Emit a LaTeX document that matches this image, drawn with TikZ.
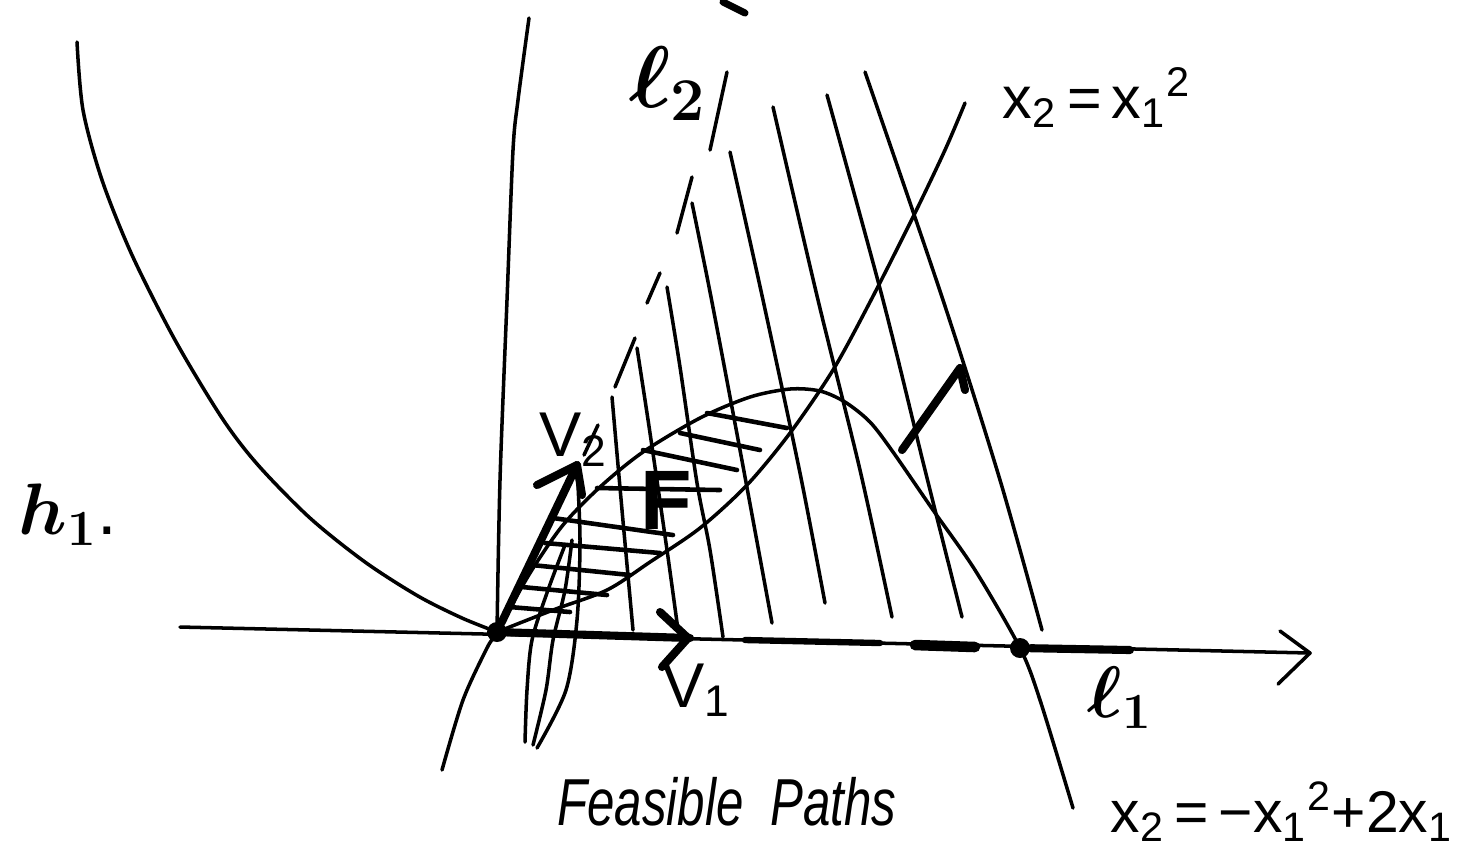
\documentclass[tikz,border=0pt]{standalone}
\usepackage{fontspec}
\setmainfont{Liberation Sans}
\usepackage{amsmath,bm}
\usetikzlibrary{arrows.meta}
\begin{document}
\begin{tikzpicture}[x=0.01cm,y=-0.01cm,
  curve/.style={line width=1.0pt,line cap=round,line join=round},
  heavy/.style={line width=2.3pt,line cap=round,line join=round},
  hatch/.style={line width=1.3pt,line cap=round},
  lbl/.style={inner sep=0pt,font=\fontsize{17}{19}\selectfont},
  dotmark/.style={circle,fill=black,inner sep=0pt,minimum size=0.2cm},
]
\useasboundingbox (0,0) rectangle (1461,853);

% key points
\node[dotmark] (O) at (497,632) {};
\node[dotmark] (R) at (1020,648) {};
\coordinate (axL) at (180,627);
\coordinate (axR) at (1310,653);

% horizontal axis with open arrowhead
\draw[curve] (axL) -- (axR);
\draw[curve] (1280,631) -- (axR) -- (1278,684);
% thick stretches along the axis
\draw[heavy] (O) -- (690,638);
\draw[line width=1.8pt,line cap=round] (745,640) -- (880,643);
\draw[line width=3pt,line cap=round] (915,645) -- (975,647);
\draw[line width=2.3pt,line cap=round] (R) -- (1130,650);

% vertical axis
\draw[curve] plot[smooth] coordinates {(529,18) (518,100) (513,150) (507,300) (500,480) (O)};

% x2 = x1^2 (both branches)
\draw[curve] plot[smooth] coordinates {(77,42) (83,110) (102,180) (132,255) (175,340) (222,418) (258,465) (310,518) (365,562) (418,596) (462,618) (O)};
\draw[curve] plot[smooth] coordinates {(O) (553,610) (607,590) (650,562) (700,528) (747,485) (790,433) (833,370) (870,302) (913,217) (945,150) (965,103)};

% x2 = -x1^2 + 2x1
\draw[curve] plot[smooth] coordinates {(442,770) (463,700) (487,648) (O) (530,573) (563,525) (600,487) (643,452) (700,418) (750,397) (790,389) (820,391) (845,402) (870,422) (893,452) (933,510) (975,570) (R) (1040,700) (1073,808)};

% dashed line l2
\draw[curve] (727,72) -- (710,150);
\draw[curve] (692,177) -- (677,233);
\draw[curve] (660,273) -- (647,303);
\draw[curve] (635,338) -- (615,387);
\draw[curve] (598,425) -- (584,455);

% parallel lines of the half plane
\draw[curve] plot[smooth] coordinates {(612,397) (622,510) (633,630)};
\draw[curve] plot[smooth] coordinates {(637,348) (650,433) (667,550) (678,630)};
\draw[curve] plot[smooth] coordinates {(667,287) (680,367) (697,483) (710,550) (723,637)};
\draw[curve] plot[smooth] coordinates {(692,203) (711,297) (740,450) (772,623)};
\draw[curve] plot[smooth] coordinates {(730,152) (763,300) (800,473) (825,603)};
\draw[curve] plot[smooth] coordinates {(773,107) (818,300) (860,470) (892,617)};
\draw[curve] plot[smooth] coordinates {(827,95) (883,300) (925,470) (962,617)};
\draw[curve] plot[smooth] coordinates {(865,72) (943,300) (1000,480) (1042,630)};

% hatching of the feasible set
\draw[hatch] (707,413) -- (787,428);
\draw[hatch] (680,433) -- (760,450);
\draw[hatch] (643,450) -- (737,470);
\draw[hatch] (597,488) -- (720,490);
\draw[hatch] (553,518) -- (673,535);
\draw[hatch] (545,543) -- (660,553);
\draw[hatch] (532,565) -- (630,575);
\draw[hatch] (522,587) -- (607,595);
\draw[hatch] (510,607) -- (570,612);

% feasible paths (leader strokes)
\draw[curve] plot[smooth] coordinates {(525,742) (527,690) (532,640) (548,590) (565,545)};
\draw[curve] plot[smooth] coordinates {(533,745) (546,690) (553,640) (565,590) (572,540)};
\draw[curve] plot[smooth] coordinates {(537,748) (566,690) (577,620) (580,540) (577,467)};

% vectors V2 and V1
\draw[heavy] (O) -- (577,465);
\draw[heavy] (537,485) -- (577,465) -- (582,495);
\draw[heavy] (660,612) -- (688,638) -- (662,667);

% gradient arrow
\draw[heavy] (902,450) -- (960,368) -- (965,390);

% stray mark at top
\draw[line width=2pt,line cap=round] (723,2) -- (745,13);

% labels
\node[lbl,anchor=base west] (lab-eq1) at (1002,118) {\resizebox{1.88cm}{!}{x\textsubscript{2}\,=\,x\textsubscript{1}\textsuperscript{2}}};
\node[lbl,anchor=base west] (lab-eq2) at (1110,832) {\resizebox{3.42cm}{!}{x\textsubscript{2}\,=\,\textminus x\textsubscript{1}\textsuperscript{2}+2x\textsubscript{1}}};
\node[lbl] (lab-feas) at (727,802) {\scalebox{1}[1.35]{\fontsize{14}{16}\selectfont\itshape Feasible\ \ Paths}};
\node[lbl,font=\fontsize{24}{26}\selectfont\bfseries] (lab-F) at (666,500) {F};
\node[lbl,font=\fontsize{18}{20}\selectfont] (lab-V2) at (574,440) {V\textsubscript{2}};
\node[lbl,font=\fontsize{18}{20}\selectfont] (lab-V1) at (697,690) {V\textsubscript{1}};
\node[lbl,font=\fontsize{24}{26}\selectfont] (lab-l2) at (668,84) {$\bm{\ell}_{\bm{2}}$};
\node[lbl,font=\fontsize{22}{24}\selectfont] (lab-l1) at (1120,698) {$\bm{\ell}_{\bm{1}}$};
\node[lbl,font=\fontsize{20}{22}\selectfont] (lab-h1) at (68,515) {$\bm{h_1}$.};
\end{tikzpicture}
\end{document}
